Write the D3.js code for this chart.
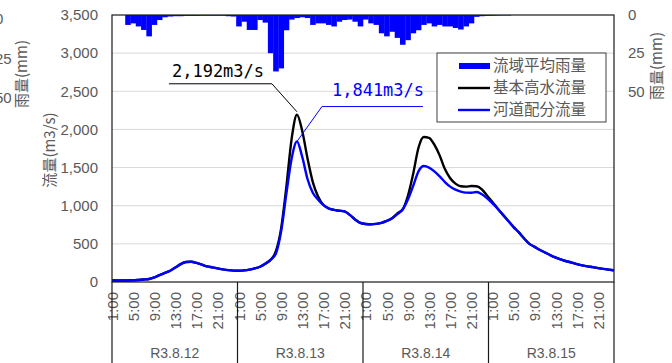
<!DOCTYPE html>
<html><head><meta charset="utf-8">
<script src="https://cdn.jsdelivr.net/npm/d3@7"></script>
<style>
body{margin:0;background:#fff}
svg{display:block}
text{font-family:"Liberation Sans",Arial,sans-serif}
.jp{font-family:"Noto Sans CJK JP","Liberation Sans",sans-serif}
</style>
</head><body>
<svg id="c" width="672" height="363"></svg>
<script>
// ---- data ----
const days = ["R3.8.12","R3.8.13","R3.8.14","R3.8.15"];
const hourLabels = ["1:00","2:00","3:00","4:00","5:00","6:00","7:00","8:00","9:00","10:00","11:00","12:00",
  "13:00","14:00","15:00","16:00","17:00","18:00","19:00","20:00","21:00","22:00","23:00","24:00"];
const shownHours = ["1:00","5:00","9:00","13:00","17:00","21:00"];
const flowTicks = [0,500,1000,1500,2000,2500,3000,3500];
const rainTicks = [0,25,50];

// 流域平均雨量 (mm)
const rain = [0,0,0,6.5,5.5,7.5,9.8,14,6.5,3.3,1.5,1,
  0.8,0.8,0.6,0.6,0.6,0.5,0.5,0.5,0.5,0.5,0.8,1,
  7.5,4.4,9.8,9.8,3.3,5,25,37,35,10,3,2,1.5,2,
  6.5,5.5,5.5,6.5,7.5,4.4,3.3,3,4.4,7.5,
  3,5.5,6.5,12,14,11,15,19.5,16.5,12,10,6.5,5.5,7.5,6.5,7.5,7.5,8.5,9.5,7.5,5.5,1.2,0.8,0.6,0.5,0.4,0.3,0.3,
  0,0,0,0,0,0,0,0,0,0,0,0,0,0,0,0,0,0,0,0];

// 基本高水流量 (m3/s)
const basicFlow = [20,20,20,20,22,27,33,40,60,90,120,148,
  190,235,262,265,250,228,205,192,178,165,155,149,
  148,152,162,178,200,240,290,400,700,1250,1880,2192,1980,1620,1310,1120,1010,965,945,935,925,880,820,775,
  760,756,762,775,800,835,900,950,1130,1420,1760,1900,1890,1800,1660,1480,1360,1290,1255,1250,1258,1255,1215,1130,
  1050,960,880,800,720,650,570,500,460,420,385,350,320,295,272,255,235,218,205,195,182,172,162,152];

// 河道配分流量 (m3/s)
const channelFlow = [20,20,20,20,22,27,33,40,60,90,120,148,
  190,235,262,265,250,228,205,192,178,165,155,149,
  148,152,162,178,200,240,290,370,660,1160,1620,1841,1640,1350,1170,1080,1010,965,945,935,925,880,820,775,
  760,756,762,775,800,835,890,950,1080,1260,1450,1520,1500,1450,1385,1310,1250,1210,1185,1172,1170,1180,1150,1095,
  1030,960,880,800,720,650,570,500,460,420,385,350,320,295,272,255,235,218,205,195,182,172,162,152];

const legendNames = ["流域平均雨量","基本高水流量","河道配分流量"];
const peakBasic = {label:"2,192m3/s"};
const peakChannel = {label:"1,841m3/s"};

// ---- layout ----
const L = 112, R = 614, T = 15, B = 282;
const svg = d3.select("#c");
const cats = days.flatMap(d => hourLabels.map(h => d + " " + h));

const x = d3.scalePoint().domain(cats).range([L, R]);
const step = x.step();
const xDay = d3.scaleBand().domain(days).range([L, R]);
const y = d3.scaleLinear().domain([0, 3500]).range([B, T]);
const yRain = d3.scaleLinear().domain([0, 175]).range([T, B]);
const yGhost = d3.scaleLinear().domain([0, 50]).range([19, 98]);

const grey = "#595959";

// gridlines
svg.append("g").selectAll("line").data(flowTicks.slice(1, -1)).join("line")
  .attr("x1", L).attr("x2", R).attr("y1", d => y(d)).attr("y2", d => y(d))
  .attr("stroke", "#d9d9d9").attr("stroke-width", 1);

// clip
svg.append("clipPath").attr("id", "pc").append("rect")
  .attr("x", L).attr("y", T).attr("width", R - L).attr("height", B - T);

// rain bars
svg.append("g").attr("clip-path", "url(#pc)").selectAll("rect")
  .data(rain.map((v, i) => ({c: cats[i], v}))).join("rect")
  .attr("x", d => x(d.c) - step / 2).attr("width", step + 0.3)
  .attr("y", yRain(0)).attr("height", d => yRain(d.v) - yRain(0))
  .attr("fill", "#0000ff");

// lines
const line = d3.line().x((d, i) => x(cats[i])).y(d => y(d)).curve(d3.curveMonotoneX);
svg.append("path").datum(basicFlow).attr("d", line)
  .attr("fill", "none").attr("stroke", "#000").attr("stroke-width", 2.4);
svg.append("path").datum(channelFlow).attr("d", line)
  .attr("fill", "none").attr("stroke", "#0000ff").attr("stroke-width", 2.4);

// plot border
svg.append("rect").attr("x", L).attr("y", T).attr("width", R - L).attr("height", B - T)
  .attr("fill", "none").attr("stroke", "#1a1a1a").attr("stroke-width", 1.2);

// left axis
const ax = svg.append("g").attr("transform", `translate(${L},0)`)
  .call(d3.axisLeft(y).tickValues(flowTicks).tickFormat(d3.format(",")).tickSize(0).tickPadding(14));
ax.select(".domain").remove();
ax.selectAll("text").attr("fill", grey).style("font-size", "15px");

// right rain axis
const ar = svg.append("g").attr("transform", `translate(${R},0)`)
  .call(d3.axisRight(yRain).tickValues(rainTicks).tickSize(0).tickPadding(14));
ar.select(".domain").remove();
ar.selectAll("text").attr("fill", grey).style("font-size", "15px");

// ghost rain axis at far left (clipped by the page edge, as in the reference)
const ag = svg.append("g").attr("transform", `translate(-19,0)`)
  .call(d3.axisRight(yGhost).tickValues(rainTicks).tickSize(0).tickPadding(14));
ag.select(".domain").remove();
ag.selectAll("text").attr("fill", grey).style("font-size", "15px");

// axis titles
svg.append("text").attr("class", "jp").attr("transform", "translate(50,150) rotate(-90)")
  .attr("text-anchor", "middle").attr("dy", "0.35em").attr("fill", grey).style("font-size", "15px")
  .text("流量(m3/s)");
svg.append("text").attr("class", "jp").attr("transform", "translate(657,66) rotate(-90)")
  .attr("text-anchor", "middle").attr("dy", "0.35em").attr("fill", grey).style("font-size", "15px")
  .text("雨量(mm)");
svg.append("text").attr("class", "jp").attr("transform", "translate(22,74) rotate(-90)")
  .attr("text-anchor", "middle").attr("dy", "0.35em").attr("fill", grey).style("font-size", "15px")
  .text("雨量(mm)");

// x axis hour labels
const tickCats = cats.filter(c => shownHours.includes(c.split(" ")[1]));
const axb = svg.append("g").attr("transform", `translate(0,${B})`)
  .call(d3.axisBottom(x).tickValues(tickCats).tickFormat(c => c.split(" ")[1]).tickSize(0));
axb.select(".domain").remove();
axb.selectAll("text").attr("transform", "rotate(-90)").attr("x", -10).attr("y", 0).attr("dy", "0.35em")
  .style("text-anchor", "end").attr("fill", grey).style("font-size", "15px");

// day separators & labels
const bounds = days.map(d => xDay(d)).concat([R]);
svg.append("g").selectAll("line").data(bounds).join("line")
  .attr("x1", d => d).attr("x2", d => d).attr("y1", B).attr("y2", 363)
  .attr("stroke", "#1a1a1a").attr("stroke-width", 1.2);
svg.append("g").selectAll("text").data(days).join("text")
  .attr("x", d => xDay(d) + xDay.bandwidth() / 2).attr("y", 358)
  .attr("text-anchor", "middle").attr("fill", grey).style("font-size", "14px").text(d => d);

// annotations
const pkI = basicFlow.indexOf(d3.max(basicFlow));
const px = x(cats[pkI]), pyB = y(basicFlow[pkI]), pyC = y(channelFlow[pkI]);
svg.append("polyline").attr("points", `${px - 128},${pyB - 31} ${px - 25},${pyB - 31} ${px},${pyB - 3}`)
  .attr("fill", "none").attr("stroke", "#000").attr("stroke-width", 1);
svg.append("text").attr("x", px - 125).attr("y", pyB - 38).attr("fill", "#000")
  .style("font-family", "'DejaVu Sans Mono',monospace").style("font-size", "17px").text(peakBasic.label);
svg.append("polyline").attr("points", `${px + 126},${pyC - 35} ${px + 25},${pyC - 35} ${px},${pyC}`)
  .attr("fill", "none").attr("stroke", "#0000ff").attr("stroke-width", 1);
svg.append("text").attr("x", px + 35).attr("y", pyC - 46).attr("fill", "#0000ff")
  .style("font-family", "'DejaVu Sans Mono',monospace").style("font-size", "17px").text(peakChannel.label);

// legend
const lg = svg.append("g");
lg.append("rect").attr("x", 437).attr("y", 53).attr("width", 169).attr("height", 69)
  .attr("fill", "#fff").attr("stroke", "#404040").attr("stroke-width", 1);
const ly = [66, 88, 110];
lg.append("rect").attr("x", 459).attr("y", ly[0] - 3).attr("width", 31).attr("height", 6).attr("fill", "#0000ff");
lg.append("line").attr("x1", 458).attr("x2", 490).attr("y1", ly[1]).attr("y2", ly[1]).attr("stroke", "#000").attr("stroke-width", 2.4);
lg.append("line").attr("x1", 458).attr("x2", 490).attr("y1", ly[2]).attr("y2", ly[2]).attr("stroke", "#0000ff").attr("stroke-width", 2.4);
lg.selectAll("text.l").data(legendNames).join("text").attr("class", "jp l")
  .attr("x", 493).attr("y", (d, i) => ly[i]).attr("dy", "0.35em").attr("fill", grey)
  .style("font-size", "15.5px").text(d => d);
</script>
</body></html>
